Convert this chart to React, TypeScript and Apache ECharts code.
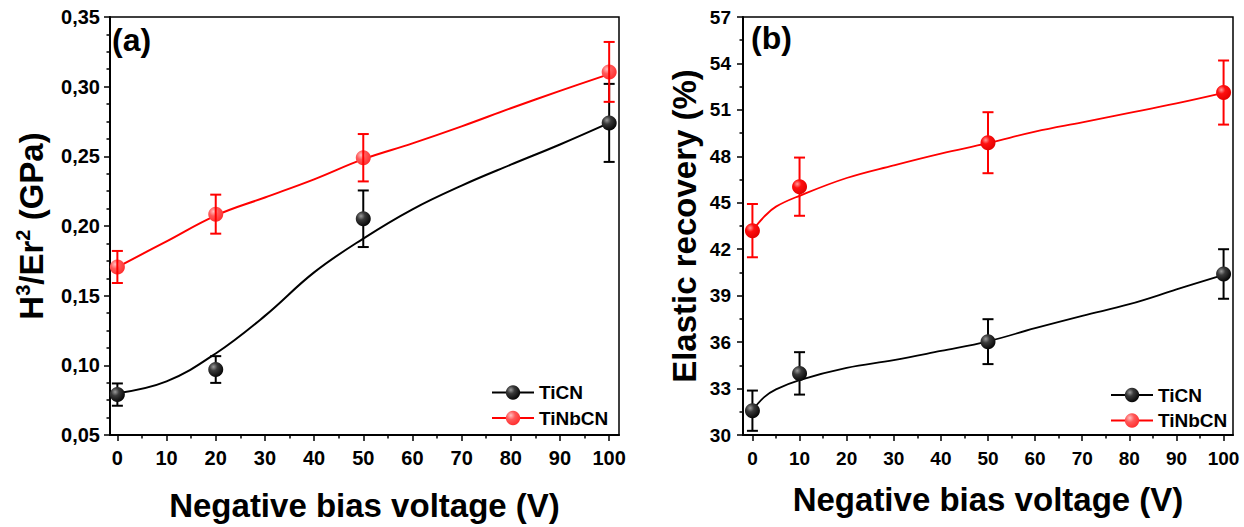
import React, { useEffect, useRef } from 'react';
import * as echarts from 'echarts';

const FONT = '"Liberation Sans", Arial, Helvetica, sans-serif';

// ---------- Panel (a): H3/Er2 ----------
const biasA = [0, 20, 50, 100];
const ticnA = [0.079, 0.097, 0.2052, 0.274];
const ticnErrA = [0.008, 0.0096, 0.0203, 0.028];
const tinbcnA = [0.1706, 0.2085, 0.249, 0.3106];
const tinbcnErrA = [0.0115, 0.014, 0.017, 0.0215];

const fitBiasA = [0, 10, 20, 30, 40, 50, 60, 70, 80, 90, 100];
const ticnFitA = [0.08, 0.0885, 0.1085, 0.1355, 0.1667, 0.191, 0.212, 0.229, 0.244, 0.2585, 0.274];
const tinbcnFitA = [0.1705, 0.189, 0.2075, 0.2205, 0.2335, 0.248, 0.2593, 0.2715, 0.2845, 0.297, 0.309];

// ---------- Panel (b): Elastic recovery ----------
const biasB = [0, 10, 50, 100];
const ticnB = [31.57, 33.98, 36.03, 40.4];
const ticnErrB = [1.3, 1.37, 1.45, 1.6];
const tinbcnB = [43.2, 46.04, 48.88, 52.12];
const tinbcnErrB = [1.72, 1.88, 1.97, 2.07];

const fitBiasB = [0, 2.5, 5, 10, 20, 30, 40, 50, 60, 70, 80, 90, 100];
const ticnFitB = [31.6, 32.45, 32.95, 33.55, 34.33, 34.83, 35.43, 36.05, 36.9, 37.7, 38.45, 39.4, 40.35];
const tinbcnFitB = [43.2, 44.1, 44.75, 45.45, 46.6, 47.42, 48.18, 48.85, 49.6, 50.2, 50.8, 51.42, 52.1];

// ---------- Axis ticks ----------
const xMajorTicks = [0, 10, 20, 30, 40, 50, 60, 70, 80, 90, 100];
const xMinorTicks = [5, 15, 25, 35, 45, 55, 65, 75, 85, 95];

const seriesNames = ['TiCN', 'TiNbCN'];

const BLACK = '#000000';
const RED = '#ff0000';

const blackBall = {
  type: 'radial', x: 0.35, y: 0.32, r: 0.75,
  colorStops: [
    { offset: 0, color: '#9a9a9a' },
    { offset: 0.35, color: '#3a3a3a' },
    { offset: 1, color: '#000000' },
  ],
};
const redBallA = {
  type: 'radial', x: 0.35, y: 0.32, r: 0.75,
  colorStops: [
    { offset: 0, color: '#ffc0c0' },
    { offset: 0.4, color: '#ff5a5a' },
    { offset: 1, color: '#ff2a2a' },
  ],
};
const redBall = {
  type: 'radial', x: 0.35, y: 0.32, r: 0.75,
  colorStops: [
    { offset: 0, color: '#ff9a9a' },
    { offset: 0.35, color: '#ff1010' },
    { offset: 1, color: '#e00000' },
  ],
};

const pairs = (xs: number[], ys: number[]) => xs.map((x, i) => [x, ys[i]]);
const errPairs = (xs: number[], ys: number[], es: number[]) =>
  xs.map((x, i) => [x, ys[i] - es[i], ys[i] + es[i]]);

const errorSeries = (grid: number, xs: number[], ys: number[], es: number[], color: string, z: number) => ({
  type: 'custom',
  xAxisIndex: grid * 2,
  yAxisIndex: grid,
  z,
  silent: true,
  data: errPairs(xs, ys, es),
  encode: { x: 0, y: [1, 2] },
  renderItem: (params: any, api: any) => {
    const x = api.value(0);
    const lo = api.coord([x, api.value(1)]);
    const hi = api.coord([x, api.value(2)]);
    const w = 5.5;
    const style = { stroke: color, lineWidth: 2 };
    return {
      type: 'group',
      children: [
        { type: 'line', shape: { x1: hi[0], y1: hi[1], x2: lo[0], y2: lo[1] }, style },
        { type: 'line', shape: { x1: hi[0] - w, y1: hi[1], x2: hi[0] + w, y2: hi[1] }, style },
        { type: 'line', shape: { x1: lo[0] - w, y1: lo[1], x2: lo[0] + w, y2: lo[1] }, style },
      ],
    };
  },
});

const fitSeries = (grid: number, name: string, xs: number[], ys: number[], color: string, width: number) => ({
  type: 'line',
  name,
  xAxisIndex: grid * 2,
  yAxisIndex: grid,
  data: pairs(xs, ys),
  smooth: 0.4,
  showSymbol: false,
  symbol: 'none',
  silent: true,
  z: 2,
  lineStyle: { color, width },
});

const pointSeries = (grid: number, name: string, xs: number[], ys: number[], color: string, fill: any) => ({
  type: 'line',
  name,
  xAxisIndex: grid * 2,
  yAxisIndex: grid,
  data: pairs(xs, ys),
  symbol: 'circle',
  symbolSize: 15,
  showAllSymbol: true,
  z: 5,
  lineStyle: { color, width: 2, opacity: 0 },
  itemStyle: { color: fill, borderWidth: 0 },
});

const tickLabelStyle = (size: number, margin: number) => ({
  fontSize: size,
  fontWeight: 'bold',
  color: BLACK,
  fontFamily: FONT,
  margin,
});

const titleStyle = { fontSize: 33, fontWeight: 'bold', color: BLACK, fontFamily: FONT };

const xAxesFor = (grid: number, min: number, max: number, labelSize: number, labelMargin: number, nameGap: number) => [
  {
    type: 'value',
    gridIndex: grid,
    min,
    max,
    position: 'bottom',
    name: 'Negative bias voltage (V)',
    nameLocation: 'middle',
    nameGap,
    nameTextStyle: titleStyle,
    axisLine: { show: true, onZero: false, lineStyle: { color: BLACK, width: 2 } },
    axisTick: { show: true, inside: false, length: 6, customValues: xMajorTicks, lineStyle: { color: BLACK, width: 1.5 } },
    axisLabel: { ...tickLabelStyle(labelSize, labelMargin), customValues: xMajorTicks },
    splitLine: { show: false },
  },
  {
    type: 'value',
    gridIndex: grid,
    min,
    max,
    position: 'bottom',
    offset: 0,
    axisLine: { show: false, onZero: false },
    axisTick: { show: true, inside: false, length: 3.5, customValues: xMinorTicks, lineStyle: { color: BLACK, width: 1.5 } },
    axisLabel: { show: false },
    splitLine: { show: false },
  },
];

export default function App() {
  const ref = useRef<HTMLDivElement>(null);

  useEffect(() => {
    if (!ref.current) return;
    const chart = echarts.init(ref.current, undefined, { renderer: 'svg' });

    const option: any = {
      animation: false,
      backgroundColor: '#ffffff',
      grid: [
        { left: 110, top: 17, width: 509, height: 418, show: true, borderColor: BLACK, borderWidth: 1.5, backgroundColor: 'transparent' },
        { left: 743, top: 17, width: 490, height: 418, show: true, borderColor: BLACK, borderWidth: 1.5, backgroundColor: 'transparent' },
      ],
      xAxis: [
        ...xAxesFor(0, -1.5, 102, 20, 13, 54),
        ...xAxesFor(1, -2, 102, 19, 14, 48),
      ],
      yAxis: [
        {
          type: 'value',
          gridIndex: 0,
          min: 0.05,
          max: 0.35,
          interval: 0.05,
          name: '{m|H}{s|3}{m|/Er}{s|2}{m| (GPa)}',
          nameLocation: 'middle',
          nameGap: 61,
          nameTextStyle: {
            ...titleStyle,
            rich: {
              m: { ...titleStyle, lineHeight: 36 },
              s: { fontSize: 20, fontWeight: 'bold', color: BLACK, fontFamily: FONT, lineHeight: 20, verticalAlign: 'top' },
            },
          },
          axisLine: { show: true, onZero: false, lineStyle: { color: BLACK, width: 2 } },
          axisTick: { show: true, inside: false, length: 6, lineStyle: { color: BLACK, width: 1.5 } },
          minorTick: { show: true, splitNumber: 4, length: 3.5, lineStyle: { color: BLACK, width: 1.5 } },
          axisLabel: {
            ...tickLabelStyle(20, 10),
            formatter: (v: number) => v.toFixed(2).replace('.', ','),
          },
          splitLine: { show: false },
          minorSplitLine: { show: false },
        },
        {
          type: 'value',
          gridIndex: 1,
          min: 30,
          max: 57,
          interval: 3,
          name: 'Elastic recovery (%)',
          nameLocation: 'middle',
          nameGap: 42,
          nameTextStyle: titleStyle,
          axisLine: { show: true, onZero: false, lineStyle: { color: BLACK, width: 2 } },
          axisTick: { show: true, inside: false, length: 6, lineStyle: { color: BLACK, width: 1.5 } },
          minorTick: { show: true, splitNumber: 2, length: 3.5, lineStyle: { color: BLACK, width: 1.5 } },
          axisLabel: tickLabelStyle(19, 12),
          splitLine: { show: false },
          minorSplitLine: { show: false },
        },
      ],
      legend: [
        {
          data: seriesNames,
          orient: 'vertical',
          left: 486,
          top: 378,
          itemWidth: 42,
          itemHeight: 18,
          itemGap: 6.5,
          selectedMode: false,
          textStyle: { fontSize: 19, fontWeight: 'bold', color: BLACK, fontFamily: FONT },
          lineStyle: { width: 2, opacity: 1 },
        },
        {
          data: seriesNames,
          orient: 'vertical',
          left: 1105,
          top: 380.5,
          itemWidth: 42,
          itemHeight: 18,
          itemGap: 6.5,
          selectedMode: false,
          textStyle: { fontSize: 19, fontWeight: 'bold', color: BLACK, fontFamily: FONT },
          lineStyle: { width: 2, opacity: 1 },
        },
      ],
      graphic: [
        { type: 'text', left: 112, top: 24, style: { text: '(a)', font: `bold 32px ${FONT}`, fill: BLACK } },
        { type: 'text', left: 751, top: 22, style: { text: '(b)', font: `bold 32px ${FONT}`, fill: BLACK } },
      ],
      series: [
        // Panel (a)
        fitSeries(0, 'TiCN fit (a)', fitBiasA, ticnFitA, BLACK, 2),
        fitSeries(0, 'TiNbCN fit (a)', fitBiasA, tinbcnFitA, RED, 2),
        errorSeries(0, biasA, ticnA, ticnErrA, BLACK, 3),
        pointSeries(0, 'TiCN', biasA, ticnA, BLACK, blackBall),
        pointSeries(0, 'TiNbCN', biasA, tinbcnA, RED, redBallA),
        errorSeries(0, biasA, tinbcnA, tinbcnErrA, RED, 6),
        // Panel (b)
        fitSeries(1, 'TiCN fit (b)', fitBiasB, ticnFitB, BLACK, 1.8),
        fitSeries(1, 'TiNbCN fit (b)', fitBiasB, tinbcnFitB, RED, 1.8),
        errorSeries(1, biasB, ticnB, ticnErrB, BLACK, 3),
        errorSeries(1, biasB, tinbcnB, tinbcnErrB, RED, 3),
        pointSeries(1, 'TiCN', biasB, ticnB, BLACK, blackBall),
        pointSeries(1, 'TiNbCN', biasB, tinbcnB, RED, redBall),
      ],
    };

    chart.setOption(option);
    return () => chart.dispose();
  }, []);

  return (
    <div
      ref={ref}
      style={{ position: 'absolute', left: 0, top: 0, width: 1244, height: 527, background: '#fff' }}
    />
  );
}
